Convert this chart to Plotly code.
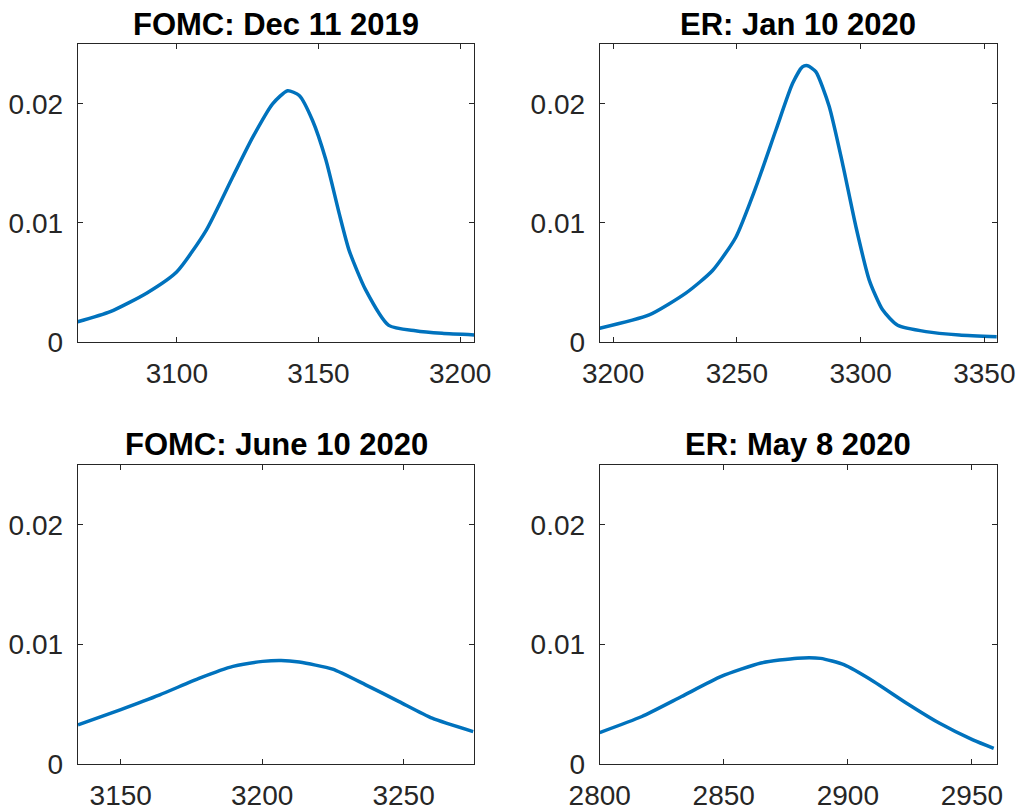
import plotly.graph_objects as go

# ---- data ----
titles = ["FOMC: Dec 11 2019", "ER: Jan 10 2020", "FOMC: June 10 2020", "ER: May 8 2020"]

x_dec19 = [3065, 3076.5, 3089.3, 3100, 3110.4, 3119.8, 3126.8, 3133.8, 3139.1, 3143.2, 3147.9,
           3152.6, 3157.3, 3160.8, 3166.6, 3174.8, 3184.2, 3193.6, 3205]
y_dec19 = [0.0017, 0.00255, 0.0041, 0.0059, 0.0094, 0.0139, 0.0172, 0.0200, 0.0211, 0.0207, 0.0186,
           0.0153, 0.0108, 0.0077, 0.0044, 0.0014, 0.00095, 0.00073, 0.00059]

x_jan20 = [3194.6, 3214.6, 3229.4, 3240.2, 3249.6, 3257.7, 3265.8, 3272.5, 3276.5, 3278.6, 3281.9,
           3287.3, 3292.7, 3298.1, 3303.5, 3308.9, 3315, 3326.4, 3339.9, 3355.1]
y_jan20 = [0.00115, 0.00227, 0.0041, 0.0060, 0.0088, 0.0130, 0.0178, 0.0217, 0.0231, 0.0232, 0.0227,
           0.0198, 0.0150, 0.0097, 0.0052, 0.0027, 0.0014, 0.00087, 0.00059, 0.00045]

x_jun20 = [3134.9, 3149.8, 3163.8, 3177.9, 3189.7, 3200.2, 3206.7, 3213.1, 3224.9, 3236.6, 3248.4,
           3260.1, 3274.6]
y_jun20 = [0.00327, 0.00453, 0.00578, 0.00718, 0.00816, 0.00858, 0.00866, 0.00852, 0.00793, 0.00662,
           0.00522, 0.00383, 0.00271]

x_may20 = [2800, 2817, 2833, 2849, 2865, 2879.7, 2889, 2898.4, 2910.4, 2923.7, 2937, 2950.4, 2958.8]
y_may20 = [0.00263, 0.00397, 0.00564, 0.00732, 0.00844, 0.00885, 0.00883, 0.0083, 0.0069, 0.00508,
           0.0034, 0.00201, 0.00131]

xranges = [[3065, 3205], [3194.6, 3355], [3134.8, 3275], [2800, 2960]]
xticks = [[3100, 3150, 3200], [3200, 3250, 3300, 3350], [3150, 3200, 3250], [2800, 2850, 2900, 2950]]
yticks = [0, 0.01, 0.02]
ytick_text = ["0", "0.01", "0.02"]

series = [(x_dec19, y_dec19), (x_jan20, y_jan20), (x_jun20, y_jun20), (x_may20, y_may20)]

W, H = 1018, 811
xdoms = [[77.7 / W, 474.3 / W], [599.7 / W, 996.7 / W]]
ydoms = [[1 - 342 / H, 1 - 44.3 / H], [1 - 764 / H, 1 - 465 / H]]

AX = "#262626"
FONT = "Liberation Sans, Arial, Helvetica, sans-serif"

fig = go.Figure()
annotations = []
for i, ((xs, ys), title) in enumerate(zip(series, titles)):
    r, c = divmod(i, 2)
    n = i + 1
    xa = "x" if n == 1 else f"x{n}"
    ya = "y" if n == 1 else f"y{n}"
    fig.add_trace(go.Scatter(x=xs, y=ys, mode="lines", xaxis=xa, yaxis=ya,
                             line=dict(color="#0072BD", width=3.5, shape="spline", smoothing=0.6),
                             showlegend=False, hoverinfo="skip"))
    common = dict(showline=True, linecolor=AX, linewidth=1, mirror="ticks", ticks="inside",
                  ticklen=5, tickcolor=AX, tickwidth=1, showgrid=False, zeroline=False,
                  automargin=False, tickfont=dict(family=FONT, size=28, color=AX))
    fig.layout[f"xaxis{'' if n == 1 else n}"] = dict(
        domain=xdoms[c], range=xranges[i], tickvals=xticks[i],
        ticktext=[str(t) for t in xticks[i]], anchor=ya, ticklabelstandoff=6, **common)
    fig.layout[f"yaxis{'' if n == 1 else n}"] = dict(
        domain=ydoms[r], range=[0, 0.025], tickvals=yticks, ticktext=ytick_text,
        anchor=xa, ticklabelstandoff=8, **common)
    annotations.append(dict(text=f"<b>{title}</b>", xref="paper", yref="paper",
                            x=(xdoms[c][0] + xdoms[c][1]) / 2, y=ydoms[r][1] + 20 / H,
                            xanchor="center", yanchor="middle", showarrow=False,
                            font=dict(family=FONT, size=31, color="#000000")))

fig.update_layout(width=W, height=H, margin=dict(l=0, r=0, t=0, b=0),
                  paper_bgcolor="white", plot_bgcolor="white", annotations=annotations)

# remove the default page margin so the figure fills the window exactly
fig.write_html("out.html", config={"displayModeBar": False},
               post_script="document.body.style.margin='0';document.body.style.overflow='hidden';")
